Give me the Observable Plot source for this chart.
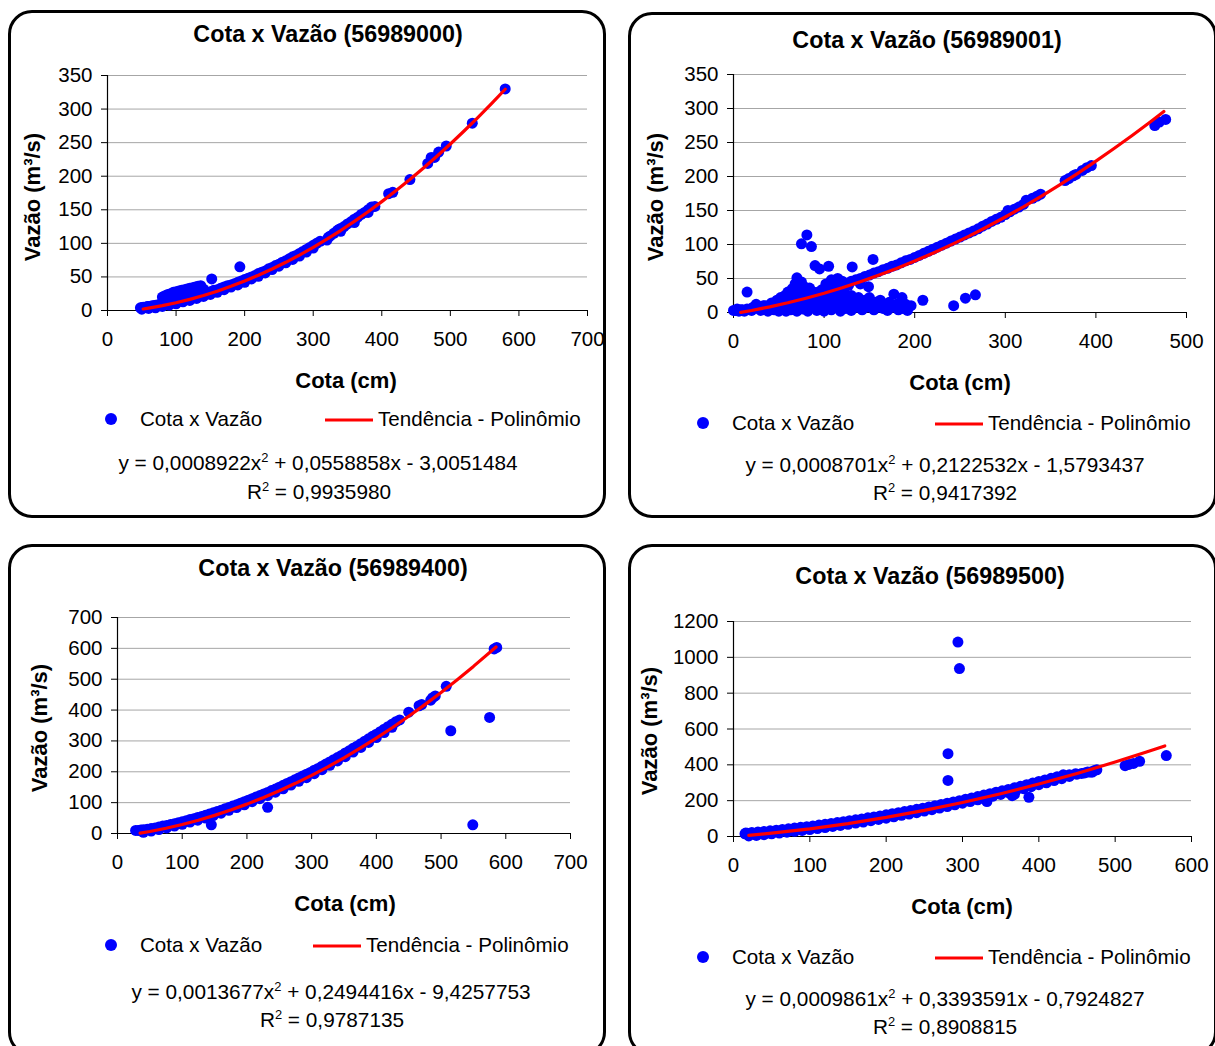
<!DOCTYPE html>
<html><head><meta charset="utf-8">
<script src="https://cdn.jsdelivr.net/npm/d3@7"></script>
<script src="https://cdn.jsdelivr.net/npm/@observablehq/plot@0.6"></script>
<style>
html,body{margin:0;padding:0;background:#fff;}
body{width:1215px;height:1046px;position:relative;overflow:hidden;font-family:"Liberation Sans",Arial,sans-serif;color:#000;}
.box{position:absolute;border:3px solid #000;border-radius:24px;box-sizing:border-box;background:#fff;}
.t{position:absolute;transform:translate(-50%,-50%);white-space:nowrap;line-height:1;}
.lt{position:absolute;transform:translateY(-50%);white-space:nowrap;line-height:1;font-size:20.6px;}
sup{font-size:0.62em;vertical-align:0;position:relative;top:-0.6em;}
.dotleg{position:absolute;width:12px;height:12px;border-radius:50%;background:#0000ff;transform:translate(-50%,-50%);}
.lineleg{position:absolute;width:48px;height:3px;background:#ff0000;transform:translateY(-50%);}
</style></head><body>
<script>
// ---------- DATA ----------
const xTicks56989000 = [0,100,200,300,400,500,600,700];
const yTicks56989000 = [0,50,100,150,200,250,300,350];
const xTicks56989001 = [0,100,200,300,400,500];
const yTicks56989001 = [0,50,100,150,200,250,300,350];
const xTicks56989400 = [0,100,200,300,400,500,600,700];
const yTicks56989400 = [0,100,200,300,400,500,600,700];
const xTicks56989500 = [0,100,200,300,400,500,600];
const yTicks56989500 = [0,200,400,600,800,1000,1200];

// [cota (cm), vazão (m³/s)]
const pontos56989000 = [
 [48,4],[50,4],[52,5],[55,5],[58,6],[60,6],[63,6],[65,7],[68,7],[70,8],[73,8],[75,9],[78,9],[80,10],
 [85,11],[90,12],[95,13],[100,14],[105,15],[110,16],[115,17],[120,19],[125,20],[130,22],[135,23],[140,25],
 [145,26],[150,28],[155,30],[160,31],[165,33],[170,35],[175,37],[180,38],[185,40],[190,42],[195,44],[200,46],
 [205,48],[210,50],[215,52],[220,55],[225,57],[230,59],[235,62],[240,64],[245,67],[250,69],[255,72],[260,74],
 [265,77],[270,80],[275,82],[280,85],[285,88],[290,91],[295,94],[300,97],[305,100],[310,103],
 [322,109],[325,111],[330,115],[335,119],[338,121],[340,122],[345,125],[350,129],[355,132],[360,136],
 [365,139],[370,143],[375,146],[380,150],[385,154],[390,155],
 [50,2],[60,3],[70,4],[80,6],[90,8],[100,10],[110,13],[120,15],[130,18],[140,21],[150,24],[160,27],[170,31],
 [180,35],[190,38],[200,42],[210,47],[220,51],[230,56],[240,61],[250,66],[260,71],[270,76],[280,81],[290,87],
 [300,93],[320,105],[340,118],[360,131],[380,146],
 [80,20],[84,22],[88,24],[92,25],[96,27],[100,28],[104,29],[108,30],[112,31],[116,32],[120,33],[124,34],
 [128,35],[132,36],[136,37],[140,32],[85,16],[90,18],[95,20],[100,22],[105,23],[110,25],[115,26],[120,27],
 [125,29],[130,30],[135,31],[90,14],[100,17],[110,20],[120,22],[130,25],[138,28],
 [152,47],[193,65],[410,174],[416,176],[441,195],[467,219],[472,228],[477,228],[483,236],[494,245],[532,279],[580,330]
];
const pontos56989001 = [
 [0,3],[5,3],[10,4],[15,5],[20,6],[25,7],[30,8],[35,10],[40,11],[45,13],[50,14],[55,16],[60,17],[65,19],
 [70,21],[75,23],[80,25],[85,27],[90,29],[95,31],[100,33],[105,35],[110,37],[115,39],[120,41],[125,43],
 [130,46],[135,48],[140,50],[145,53],[150,55],[155,58],[160,60],[165,63],[170,65],[175,68],[180,70],[185,73],
 [190,76],[195,78],[200,81],[205,84],[210,87],[215,90],[220,93],[225,96],[230,99],[235,102],[240,105],
 [245,108],[250,111],[255,114],[260,117],[265,120],[270,123],[275,127],[280,130],[285,134],[290,137],
 [295,140],[300,144],[303,150],[305,148],[310,152],[315,155],[320,159],[323,165],[330,168],[335,171],[339,174],
 [366,194],[370,197],[375,201],[378,203],[385,209],[390,213],[395,216],[465,275],[470,280],[477,284],
 [2,3],[4,5],[6,2],[8,4],[10,3],[12,2],[15,4],[15,30],[20,3],[22,8],[25,12],[28,6],[30,3],[33,10],[35,5],
 [38,2],[40,8],[42,14],[45,4],[48,18],[50,2],[50,10],[52,22],[55,6],[55,15],[57,25],[58,2],[60,12],[60,30],
 [62,20],[63,4],[65,35],[65,26],[66,10],[68,42],[68,18],[70,51],[70,2],[72,40],[72,28],[73,12],[75,45],
 [75,33],[76,20],[77,5],[78,38],[80,30],[80,12],[75,101],[81,114],[82,2],[84,36],[85,22],[86,8],[86,97],
 [88,30],[90,69],[90,15],[92,3],[94,25],[95,64],[96,10],[98,34],[100,2],[100,20],[102,42],[105,68],[104,12],
 [106,28],[108,48],[108,4],[110,18],[112,35],[114,8],[115,50],[116,24],[118,2],[120,14],[120,46],[122,30],
 [124,6],[125,20],[127,40],[128,12],[130,3],[130,25],[131,67],[134,16],[136,8],[138,22],[140,42],[140,12],
 [142,4],[145,18],[149,38],[148,8],[150,22],[152,12],[154,78],[155,4],[157,15],[160,10],[162,18],[165,6],
 [168,12],[170,3],[172,15],[177,27],[176,8],[180,12],[182,4],[186,22],[187,6],[190,12],[192,3],[196,10],
 [209,18],[243,10],[256,21],[267,26]
];
const pontos56989400 = [
 [28,10],[32,10],[36,11],[40,12],[46,14],[52,16],[58,18],[64,21],[70,24],[76,26],[82,29],[88,32],[94,35],
 [100,38],[106,41],[112,45],[118,48],[124,52],[130,55],[136,59],[142,63],[148,67],[154,71],[160,75],[166,80],
 [172,84],[178,89],[184,93],[190,98],[196,103],[202,108],[208,113],[214,118],[220,123],[226,128],[232,133],
 [238,139],[244,144],[250,150],[256,156],[262,162],[268,168],[274,174],[280,180],[286,186],[292,192],
 [298,198],[304,205],[310,211],[316,218],[322,225],[328,232],[334,239],[340,246],[346,253],[352,261],
 [358,268],[364,276],[370,283],[376,291],[382,299],[388,307],[394,315],[400,322],[406,330],[412,338],
 [418,346],[424,354],[430,362],[436,368],
 [40,4],[52,8],[64,13],[76,18],[88,24],[100,30],[112,37],[124,43],[136,50],[148,58],[160,66],[172,75],
 [184,84],[196,93],[208,103],[220,113],[232,123],[244,134],[256,145],[268,157],[280,169],[292,181],
 [304,194],[316,207],[328,221],[340,235],[352,249],[364,264],[376,279],[388,295],[400,311],[412,327],[424,344],
 [145,28],[232,85],[450,393],[466,414],[470,418],[484,432],[487,440],[491,446],[508,477],[515,333],[549,28],
 [575,376],[582,598],[586,603]
];
const pontos56989500 = [
 [16,19],[24,22],[32,25],[40,28],[48,32],[56,35],[64,39],[72,43],[80,47],[88,51],[96,55],[104,59],[112,64],
 [120,68],[128,73],[136,78],[144,83],[152,88],[160,93],[168,98],[176,104],[184,109],[192,115],[200,121],
 [208,127],[216,133],[224,139],[232,145],[240,152],[248,158],[256,165],[264,172],[272,179],[280,186],
 [288,193],[296,200],[304,208],[312,215],[320,223],[328,231],[336,239],[344,247],[352,255],[360,263],
 [368,272],[376,280],[384,289],[392,298],[400,307],[408,316],[416,325],[424,334],[432,344],[440,345],
 [448,350],[456,352],[464,360],
 [20,3],[30,6],[40,10],[50,15],[60,19],[70,24],[80,29],[90,34],[100,39],[110,44],[120,50],[130,56],[140,62],
 [150,68],[160,75],[170,81],[180,88],[190,95],[200,102],[210,110],[220,118],[230,125],[240,133],[250,142],
 [260,150],[270,159],[280,167],[290,177],[300,186],[310,195],[320,205],[330,215],[340,225],[350,235],
 [360,245],[370,256],[380,267],[390,278],[400,289],[410,300],[420,312],[430,323],[440,335],[450,348],
 [460,355],[470,360],
 [15,15],[18,18],[22,14],[26,17],[30,20],[35,16],[40,22],[45,20],[332,195],[365,228],[368,235],
 [468,360],[473,369],[476,372],
 [281,462],[281,313],[294,1085],[296,937],[387,219],[513,395],[518,402],[524,408],[532,420],[567,452]
];

// linha de tendência polinomial
const tendencia56989000 = [[52,2.3],[60,3.6],[80,7.2],[100,11.5],[120,16.6],[140,22.3],[160,28.8],[180,36.0],
 [200,43.9],[220,52.5],[240,61.8],[260,71.8],[280,82.6],[300,94.1],[320,106.2],[340,119.1],[360,132.7],
 [380,147.0],[400,162.2],[420,177.9],[440,194.3],[460,211.5],[480,229.4],[500,248.0],[520,267.3],
 [540,287.4],[560,308.1],[580,329.5]];
const tendencia56989001 = [[8,0.2],[20,3.0],[40,8.3],[60,14.3],[80,21.0],[100,28.3],[120,36.4],[140,45.2],
 [160,54.7],[180,64.8],[200,75.6],[220,87.2],[240,99.5],[260,112.4],[280,126.1],[300,140.4],[320,155.4],
 [340,171.2],[360,187.6],[380,204.7],[400,222.5],[420,241.1],[440,260.2],[460,280.1],[475,295.5]];
const tendencia56989400 = [[35,1.0],[50,6.5],[75,17.0],[100,29.2],[125,43.1],[150,58.8],[175,76.1],[200,95.2],
 [225,115.9],[250,138.4],[275,162.6],[300,188.5],[325,216.1],[350,245.4],[375,276.4],[400,309.2],
 [425,343.6],[450,379.8],[475,417.7],[500,457.2],[525,498.5],[550,541.5],[585,604.5]];
const tendencia56989500 = [[20,6.4],[50,18.6],[100,43.0],[150,72.3],[200,106.5],[250,145.7],[300,189.8],
 [350,238.8],[400,292.7],[450,351.6],[500,415.4],[540,470.0],[565,505.7]];

const titulos = ["Cota x Vazão (56989000)","Cota x Vazão (56989001)","Cota x Vazão (56989400)","Cota x Vazão (56989500)"];
const equacoes = [
 "y = 0,0008922x<sup>2</sup> + 0,0558858x - 3,0051484",
 "y = 0,0008701x<sup>2</sup> + 0,2122532x - 1,5793437",
 "y = 0,0013677x<sup>2</sup> + 0,2494416x - 9,4257753",
 "y = 0,0009861x<sup>2</sup> + 0,3393591x - 0,7924827"];
const r2 = ["0,9935980","0,9417392","0,9787135","0,8908815"];
const legenda = ["Cota x Vazão","Tendência - Polinômio"];
const eixoX = "Cota (cm)";
const eixoY = "Vazão (m³/s)";

// ---------- LAYOUT ----------
const layouts = [
 {box:[8,10,598,508], x0:107,x1:587,yTop:75,yBot:310, title:[328,35], ylab:[33,197], xlab:[346,381],
  leg:{dot:111,y:419,t1:140,line:325,t2:378}, eq:[318,463], r2:[319,492]},
 {box:[628,12,589,506], x0:733,x1:1186,yTop:74,yBot:312, title:[927,41], ylab:[656,197], xlab:[960,383],
  leg:{dot:703,y:423,t1:732,line:935,t2:988}, eq:[945,465], r2:[945,493]},
 {box:[8,544,598,512], x0:117,x1:570,yTop:617,yBot:833, title:[333,569], ylab:[40,728], xlab:[345,904],
  leg:{dot:111,y:945,t1:140,line:313,t2:366}, eq:[331,992], r2:[332,1020]},
 {box:[628,544,589,512], x0:733,x1:1191,yTop:621,yBot:836, title:[930,577], ylab:[650,731], xlab:[962,907],
  leg:{dot:703,y:957,t1:732,line:935,t2:988}, eq:[945,999], r2:[945,1027]}
];

const paineis = [
 {pontos:pontos56989000, tendencia:tendencia56989000, xTicks:xTicks56989000, yTicks:yTicks56989000},
 {pontos:pontos56989001, tendencia:tendencia56989001, xTicks:xTicks56989001, yTicks:yTicks56989001},
 {pontos:pontos56989400, tendencia:tendencia56989400, xTicks:xTicks56989400, yTicks:yTicks56989400},
 {pontos:pontos56989500, tendencia:tendencia56989500, xTicks:xTicks56989500, yTicks:yTicks56989500}
];

function el(cls, html, x, y, extra) {
  const d = document.createElement("div");
  d.className = cls; if (html != null) d.innerHTML = html;
  d.style.left = x + "px"; d.style.top = y + "px";
  if (extra) Object.assign(d.style, extra);
  document.body.appendChild(d);
  return d;
}

paineis.forEach((p, i) => {
  const L = layouts[i];
  el("box", null, L.box[0], L.box[1], {width: L.box[2] + "px", height: L.box[3] + "px"});
});

paineis.forEach((p, i) => {
  const L = layouts[i];
  const mL = 70, mT = 15, mR = 25, mB = 50;
  const w = L.x1 - L.x0 + mL + mR, h = L.yBot - L.yTop + mT + mB;
  const chart = Plot.plot({
    width: w, height: h, marginLeft: mL, marginRight: mR, marginTop: mT, marginBottom: mB,
    style: {fontFamily: '"Liberation Sans", Arial, sans-serif', fontSize: "20.5px", color: "#000", background: "none", overflow: "visible"},
    x: {domain: [p.xTicks[0], p.xTicks[p.xTicks.length - 1]]},
    y: {domain: [p.yTicks[0], p.yTicks[p.yTicks.length - 1]]},
    marks: [
      Plot.gridY(p.yTicks, {stroke: "#a6a6a6", strokeOpacity: 1, strokeWidth: 1}),
      Plot.axisX(p.xTicks, {tickSize: 6, tickPadding: 15, label: null, tickFormat: d => String(d)}),
      Plot.axisY(p.yTicks, {tickSize: 6, tickPadding: 9, label: null, tickFormat: d => String(d)}),
      Plot.ruleX([p.xTicks[0]], {stroke: "#000", strokeWidth: 1.2}),
      Plot.ruleY([p.yTicks[0]], {stroke: "#000", strokeWidth: 1.2}),
      Plot.dot(p.pontos, {x: d => d[0], y: d => d[1], r: 5.5, fill: "#0000ff", stroke: "none"}),
      Plot.line(p.tendencia, {x: d => d[0], y: d => d[1], stroke: "#ff0000", strokeWidth: 3.2})
    ]
  });
  chart.style.position = "absolute";
  chart.style.left = (L.x0 - mL) + "px";
  chart.style.top = (L.yTop - mT) + "px";
  document.body.appendChild(chart);

  el("t", titulos[i], L.title[0], L.title[1], {fontSize: "23.3px", fontWeight: "bold"});
  el("t", eixoY, L.ylab[0], L.ylab[1], {fontSize: "22px", fontWeight: "bold", transform: "translate(-50%,-50%) rotate(-90deg)"});
  el("t", eixoX, L.xlab[0], L.xlab[1], {fontSize: "22px", fontWeight: "bold"});
  el("dotleg", null, L.leg.dot, L.leg.y);
  el("lt", legenda[0], L.leg.t1, L.leg.y);
  el("lineleg", null, L.leg.line, L.leg.y + 1);
  el("lt", legenda[1], L.leg.t2, L.leg.y);
  el("t", equacoes[i], L.eq[0], L.eq[1], {fontSize: "20.8px"});
  el("t", "R<sup>2</sup> = " + r2[i], L.r2[0], L.r2[1], {fontSize: "20.8px"});
});
</script>
</body></html>
